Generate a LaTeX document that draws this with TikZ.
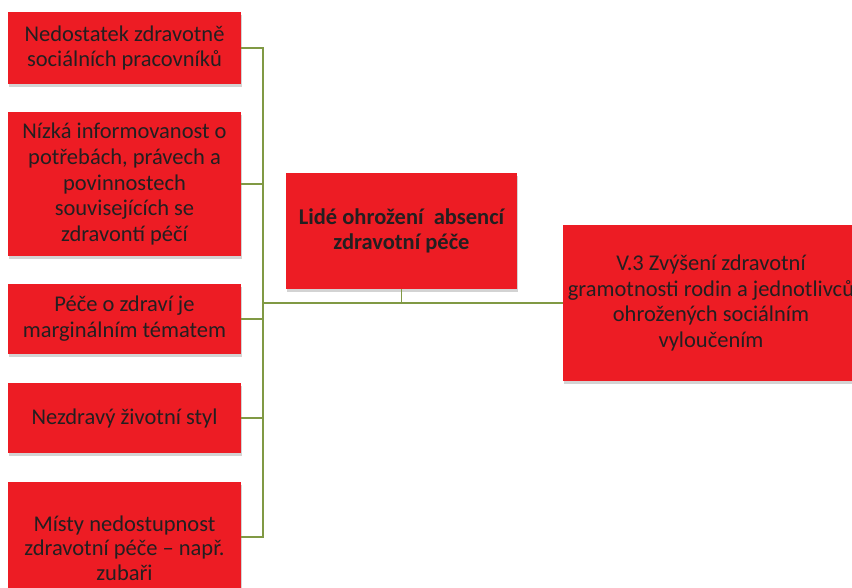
\documentclass[tikz,border=0pt]{standalone}
\usepackage{fontspec}
\setmainfont{Carlito}
\usepackage{xcolor}
\usetikzlibrary{shadows}

\definecolor{boxred}{RGB}{237,28,36}
\definecolor{boxtext}{RGB}{35,31,32}
\definecolor{linegreen}{RGB}{128,153,68}

\begin{document}
\begin{tikzpicture}[x=1pt,y=-1pt,
    cause/.style={fill=boxred,text=boxtext,align=center,inner sep=0pt,
      minimum width=233pt,
      font=\fontsize{22.5}{25.8}\selectfont,
      drop shadow={shadow xshift=1pt,shadow yshift=-2.5pt,opacity=.35}},
    conn/.style={draw=linegreen,line width=1.8pt}]
  \useasboundingbox (0,0) rectangle (852,587);

  % causes on the left
  \node (nedost) [cause,minimum height=72pt] at (124.5,48)
    {Nedostatek zdravotně\\sociálních pracovníků};
  \node (inform) [cause,minimum height=144pt] at (124.5,184)
    {Nízká informovanost o\\potřebách, právech a\\povinnostech\\souvisejících se\\zdravontí péčí};
  \node (pece) [cause,minimum height=70pt] at (124.5,319)
    {Péče o zdraví je\\marginálním tématem};
  \node (styl) [cause,minimum height=70pt] at (124.5,418)
    {Nezdravý životní styl};
  \node (dostup) [cause,minimum height=132pt,
    font=\fontsize{22.5}{24.5}\selectfont] at (124.5,548)
    {Místy nedostupnost\\zdravotní péče – např.\\zubaři};

  % problem and goal
  \node (lide) [cause,minimum width=231pt,minimum height=116pt,
    font=\fontsize{22.5}{24.5}\selectfont\bfseries] at (401.5,231)
    {Lidé ohrožení \ absencí\\zdravotní péče};
  \node (gramot) [cause,minimum width=296pt,minimum height=156pt] at (711,303)
    {V.3 Zvýšení zdravotní\\gramotnosti rodin a jednotlivců\\ohrožených sociálním\\vyloučením};

  \coordinate (spine) at (263,303);
  \draw[conn] (nedost.east) -| (spine) |- ([yshift=11pt]dostup.east);
  \foreach \n in {inform,pece,styl}
    \draw[conn] (\n.east) -- (\n.east -| spine);
  \draw[conn] (lide.south) -- (lide.south |- spine);
  \draw[conn] (spine) -- (gramot.west);
\end{tikzpicture}
\end{document}
